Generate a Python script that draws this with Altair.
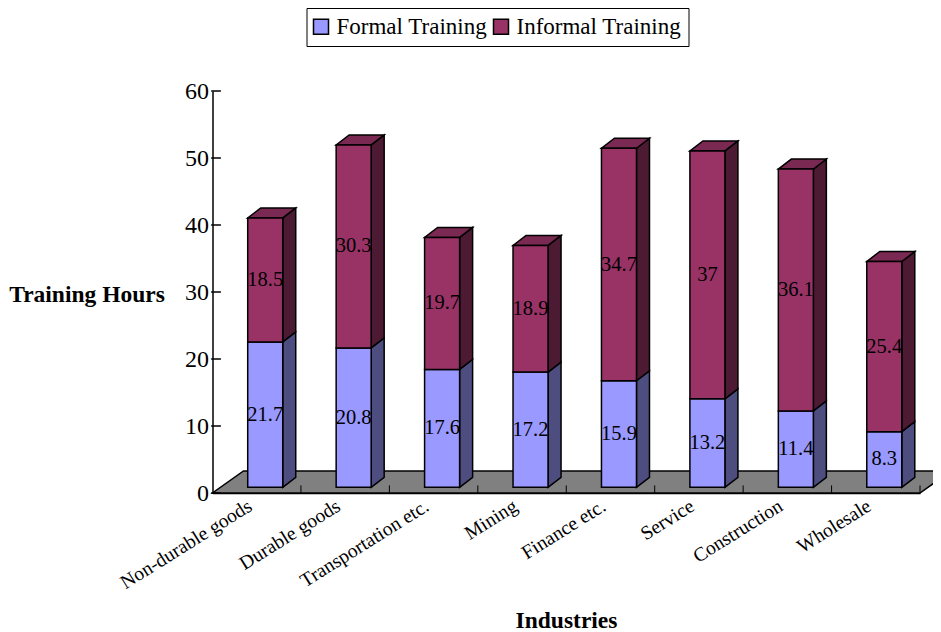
import altair as alt
import pandas as pd

categories = ["Non-durable goods", "Durable goods", "Transportation etc.", "Mining",
              "Finance etc.", "Service", "Construction", "Wholesale"]
formal = [21.7, 20.8, 17.6, 17.2, 15.9, 13.2, 11.4, 8.3]
informal = [18.5, 30.3, 19.7, 18.9, 34.7, 37, 36.1, 25.4]
series = ["Formal Training", "Informal Training"]
front_colors = ["#9999FF", "#993366"]
side_colors = ["#4D4D80", "#4D1A33"]
top_color = "#7A2952"
y_ticks = [0, 10, 20, 30, 40, 50, 60]

FONT = "Liberation Serif"
PX = 88.4   # pixels per category
PY = 6.7    # pixels per y unit
bar_left = 35.2 / PX
bar_w = 35.0 / PX
depth_x = 13.0 / PX
depth_y = 10.0 / PY
base = 5.7 / PY
floor_x = 31.0 / PX
floor_y = 22.0 / PY
n = len(categories)

fronts, faces, labels = [], [], []
for i, (a, b) in enumerate(zip(formal, informal)):
    L = i + bar_left
    R = L + bar_w
    lo = base
    for s, v in enumerate((a, b)):
        hi = lo + v
        fronts.append(dict(x=L, x2=R, y=lo, y2=hi, series=series[s]))
        labels.append(dict(x=(L + R) / 2, y=(lo + hi) / 2, text=f"{v:g}"))
        fid = f"side{i}{s}"
        faces.append(dict(id=fid, x=R, y=lo, y2=hi, fill=side_colors[s]))
        faces.append(dict(id=fid, x=R + depth_x, y=lo + depth_y, y2=hi + depth_y, fill=side_colors[s]))
        lo = hi
    fid = f"top{i}"
    for px, y1, y2 in [(L, lo, lo), (L + depth_x, lo, lo + depth_y),
                       (R, lo, lo + depth_y), (R + depth_x, lo + depth_y, lo + depth_y)]:
        faces.append(dict(id=fid, x=px, y=y1, y2=y2, fill=top_color))

floor = pd.DataFrame([
    dict(x=0, y=0, y2=0),
    dict(x=floor_x, y=0, y2=floor_y),
    dict(x=n, y=0, y2=floor_y),
    dict(x=n + floor_x, y=floor_y, y2=floor_y),
])

xs = alt.Scale(domain=[0, n], nice=False, zero=False)
ys = alt.Scale(domain=[0, 60], nice=False)
label_list = "[" + ",".join(f"'{c}'" for c in categories) + "]"

x_axis = alt.Axis(
    values=[i + 0.5 for i in range(n)],
    labelExpr=f"{label_list}[datum.value-0.5]",
    labelAngle=-32, labelAlign="right", labelBaseline="middle",
    labelFont=FONT, labelFontSize=19.6, labelColor="black", labelPadding=11, labelOffset=-7,
    labelOverlap=False, ticks=False, grid=False,
    domainColor="black", domainWidth=1.5,
    title="Industries", titleFont=FONT, titleFontSize=23.5, titleFontWeight="bold",
    titleColor="black", titleX=353.5, titleY=127, titleBaseline="middle", titleAlign="center",
)
y_axis = alt.Axis(
    values=y_ticks, ticks=False, grid=False, labelPadding=4,
    labelFont=FONT, labelFontSize=24, labelColor="black",
    domainColor="black", domainWidth=1.5,
    title="Training Hours", titleFont=FONT, titleFontSize=23.5, titleFontWeight="bold",
    titleColor="black", titleAngle=0, titleX=-126, titleY=203,
    titleAlign="center", titleBaseline="middle",
)

floor_layer = alt.Chart(floor).mark_area(fill="#808080", stroke="black", strokeWidth=1.5).encode(
    x=alt.X("x:Q", scale=xs, axis=x_axis),
    y=alt.Y("y:Q", scale=ys, axis=y_axis),
    y2="y2:Q",
)

y_tick_layer = alt.Chart(pd.DataFrame(dict(y=y_ticks, a=[-0.015] * 7, b=[0.095] * 7))).mark_rule(
    color="black", strokeWidth=1.5).encode(
    x=alt.X("a:Q", scale=xs), x2="b:Q", y=alt.Y("y:Q", scale=ys))

x_tick_layer = alt.Chart(pd.DataFrame(dict(x=list(range(1, n + 1)), a=[0.0] * n, b=[1.13] * n))).mark_rule(
    color="black", strokeWidth=1).encode(
    x=alt.X("x:Q", scale=xs), y=alt.Y("a:Q", scale=ys), y2="b:Q")

face_layer = alt.Chart(pd.DataFrame(faces)).mark_area(stroke="black", strokeWidth=1.5).encode(
    x=alt.X("x:Q", scale=xs),
    y=alt.Y("y:Q", scale=ys),
    y2="y2:Q",
    detail="id:N",
    fill=alt.Fill("fill:N", scale=None),
)

front_layer = alt.Chart(pd.DataFrame(fronts)).mark_bar(stroke="black", strokeWidth=1.5).encode(
    x=alt.X("x:Q", scale=xs),
    x2="x2:Q",
    y=alt.Y("y:Q", scale=ys),
    y2="y2:Q",
    color=alt.Color("series:N", scale=alt.Scale(domain=series, range=front_colors), legend=alt.Legend(
        orient="none", legendX=94, legendY=-83, direction="horizontal", columns=2, title=None,
        labelFont=FONT, labelFontSize=23, labelColor="black", labelLimit=300,
        symbolType="square", symbolSize=225, symbolStrokeColor="black", symbolStrokeWidth=1.5,
        symbolOffset=-4, symbolOpacity=1, columnPadding=3, padding=7, strokeColor="black", fillColor="white",
    )),
)

text_layer = alt.Chart(pd.DataFrame(labels)).mark_text(
    font=FONT, fontSize=20.5, color="black", align="center", baseline="middle").encode(
    x=alt.X("x:Q", scale=xs), y=alt.Y("y:Q", scale=ys), text="text:N")

chart = alt.layer(floor_layer, y_tick_layer, x_tick_layer, face_layer, front_layer, text_layer).properties(
    width=707.5, height=402,
    padding={"left": 204.5, "top": 83, "right": 13, "bottom": 139},
    autosize=alt.AutoSizeParams(type="none"),
    background="white",
).configure_view(stroke=None)

chart.save("out.html", embed_options={"renderer": "svg", "actions": False})
